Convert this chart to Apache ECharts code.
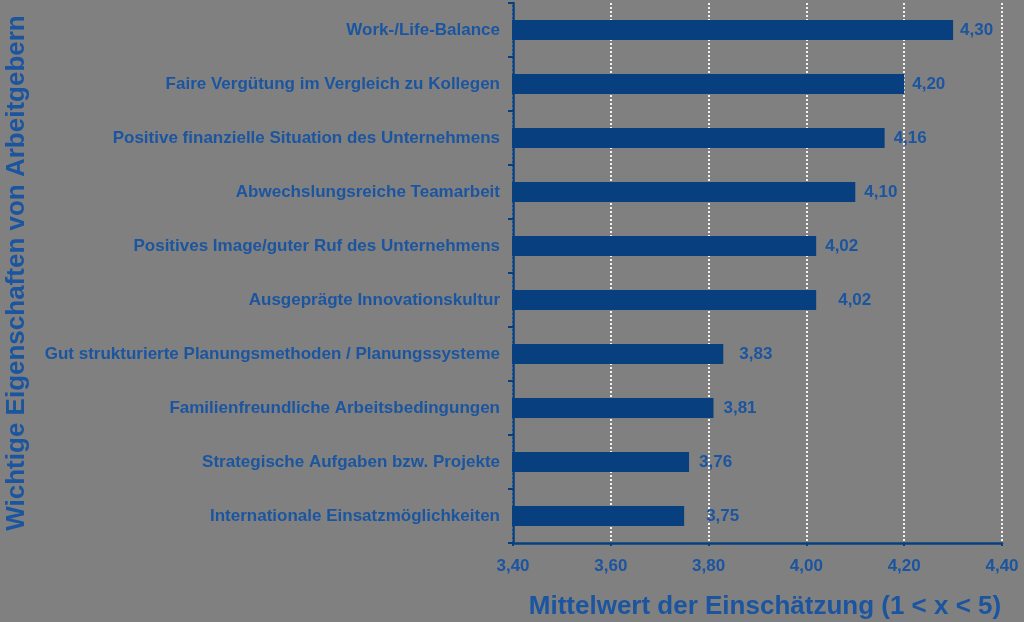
<!DOCTYPE html>
<html>
<head>
<meta charset="utf-8">
<script src="https://cdn.jsdelivr.net/npm/echarts@6/dist/echarts.min.js"></script>
<style>
  html, body { margin: 0; padding: 0; background: #808080; }
  #chart { width: 1024px; height: 622px; }
</style>
</head>
<body>
<div id="chart"></div>
<script>
const categories = [
  "Work-/Life-Balance",
  "Faire Vergütung im Vergleich zu Kollegen",
  "Positive finanzielle Situation des Unternehmens",
  "Abwechslungsreiche Teamarbeit",
  "Positives Image/guter Ruf des Unternehmens",
  "Ausgeprägte Innovationskultur",
  "Gut strukturierte Planungsmethoden / Planungssysteme",
  "Familienfreundliche Arbeitsbedingungen",
  "Strategische Aufgaben bzw. Projekte",
  "Internationale Einsatzmöglichkeiten",
];
const values = [4.30, 4.20, 4.16, 4.10, 4.02, 4.02, 3.83, 3.81, 3.76, 3.75];
const xTicks = [3.4, 3.6, 3.8, 4.0, 4.2, 4.4];
// extra space between some bars and their value labels, as in the original
const labelGap = [7, 8, 9, 9, 9, 22, 16, 10, 10, 22];

const textColor = "#1b55a0";
const barColor = "#08407f";
const font = "Liberation Sans";

const chart = echarts.init(document.getElementById("chart"));
const option = {
  backgroundColor: "#808080",
  grid: {
    top: 3,
    bottom: 79,
    left: 513,
    right: 22,
    outerBoundsMode: "none",
  },
  xAxis: {
    type: "value",
    min: xTicks[0],
    max: xTicks[xTicks.length - 1],
    interval: 0.2,
    name: "Mittelwert der Einschätzung (1 < x < 5)",
    nameLocation: "middle",
    nameGap: 51,
    nameTextStyle: {
      color: textColor,
      fontFamily: font,
      fontWeight: "bold",
      fontSize: 26,
      padding: [0, 0, 0, 15],
    },
    axisLine: { show: true, lineStyle: { color: barColor, width: 2.5 } },
    axisTick: { show: true, length: 3, lineStyle: { color: barColor, width: 2 } },
    axisLabel: {
      color: textColor,
      fontFamily: font,
      fontWeight: "bold",
      fontSize: 17,
      margin: 15,
      formatter: (v) => v.toFixed(2).replace(".", ","),
    },
    splitLine: {
      show: true,
      lineStyle: { color: "#f2f2f2", width: 2, type: [2, 2] },
    },
  },
  yAxis: {
    type: "category",
    inverse: true,
    data: categories,
    name: "Wichtige Eigenschaften von Arbeitgebern",
    nameLocation: "middle",
    nameRotate: 90,
    nameGap: 483,
    nameTextStyle: {
      color: textColor,
      fontFamily: font,
      fontWeight: "bold",
      fontSize: 26,
    },
    axisLine: { show: true, lineStyle: { color: barColor, width: 2.5 } },
    axisTick: { show: true, length: 5, lineStyle: { color: barColor, width: 2 } },
    axisLabel: {
      color: textColor,
      fontFamily: font,
      fontWeight: "bold",
      fontSize: 17,
      margin: 13,
    },
  },
  series: [
    {
      type: "bar",
      data: values.map((v, i) => ({
        value: v,
        label: { distance: labelGap[i] },
      })),
      barWidth: 20,
      itemStyle: { color: barColor, borderColor: barColor, borderWidth: 2 },
      label: {
        show: true,
        position: "right",
        color: textColor,
        fontFamily: font,
        fontWeight: "bold",
        fontSize: 17,
        formatter: (p) => p.value.toFixed(2).replace(".", ","),
      },
    },
  ],
};
chart.setOption(option);
window.onresize = function () {
  chart.resize();
};
</script>
</body>
</html>
